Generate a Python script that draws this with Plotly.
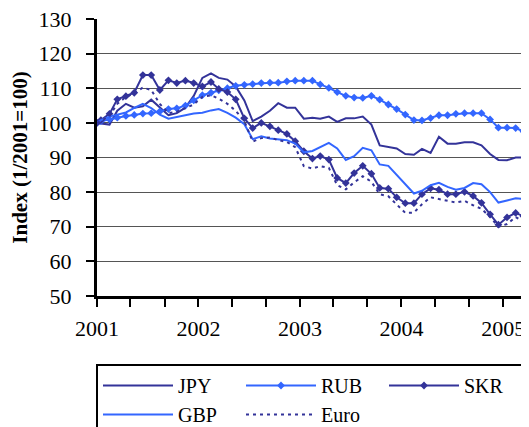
import plotly.graph_objects as go

# Dates: base point 1 Jan 2001, then mid-month observations
dates = ["2001-01-01"] + [f"{2001 + i // 12}-{i % 12 + 1:02d}-15" for i in range(52)]

jpy = [100, 99.8, 99.5, 103.5, 105.5, 104.4, 104.8, 106.7, 104.5, 102.2, 102.8,
       104.4, 107.8, 113.0, 114.3, 113.0, 112.5, 110.5, 106.5, 100.5, 101.8,
       103.5, 105.7, 104.4, 104.4, 101.2, 101.5, 101.2, 101.8, 100.3, 101.3,
       101.3, 101.8, 99.5, 93.5, 93.0, 92.6, 91.0, 90.8, 92.5, 91.3,
       96.0, 94.0, 94.0, 94.4, 94.4, 93.5, 91.0, 89.3, 89.2, 90.0, 90.0, 90.0]

rub = [100, 100.5, 101.0, 101.5, 102.0, 102.3, 102.7, 102.8, 103.3, 104.0, 104.2,
       105.0, 106.5, 108.0, 108.7, 109.4, 110.0, 110.7, 111.0, 111.2, 111.5,
       111.6, 111.6, 112.0, 112.2, 112.2, 112.2, 111.1, 110.1, 108.9, 107.8,
       107.3, 107.2, 107.8, 106.7, 105.3, 104.0, 102.4, 100.8, 100.7, 101.4,
       102.2, 102.2, 102.6, 102.8, 102.8, 102.8, 101.0, 98.6, 98.6, 98.5, 97.5, 97.0]

skr = [100, 100.8, 102.6, 106.8, 107.7, 108.7, 113.8, 113.8, 109.5, 112.3, 111.5,
       112.2, 111.5, 110.5, 111.8, 109.8, 108.9, 106.8, 101.3, 98.5, 100.0,
       99.0, 97.9, 96.8, 94.7, 91.8, 89.7, 90.4, 89.4, 84.1, 82.6,
       85.5, 87.6, 85.3, 81.2, 81.0, 78.5, 76.8, 76.8, 79.4, 81.1,
       80.7, 79.4, 79.4, 80.1, 78.9, 76.9, 73.6, 70.6, 72.7, 74.0, 73.0, 72.6]

gbp = [100, 100.8, 101.8, 102.4, 103.0, 104.3, 105.5, 104.3, 102.4, 101.2, 101.7,
       102.4, 102.7, 102.9, 103.6, 104.0, 102.9, 101.5, 99.6, 95.3, 96.1,
       95.5, 95.3, 95.0, 94.0, 91.5, 91.9, 93.1, 94.2, 92.6, 89.3,
       90.4, 92.8, 92.1, 88.0, 87.6, 85.0, 82.0, 79.6, 80.4, 82.0,
       82.7, 81.5, 80.7, 81.2, 82.6, 82.3, 80.0, 77.0, 77.6, 78.2, 78.0, 77.8]

euro = [100, 100.5, 102.0, 105.5, 107.5, 108.5, 110.2, 109.5, 105.5, 102.8, 103.2,
        104.2, 105.3, 107.5, 108.0, 107.0, 105.5, 103.5, 100.5, 94.6, 95.6,
        95.8, 95.0, 94.5, 93.0, 87.5, 86.8, 87.5, 87.0, 82.0, 80.8,
        82.8, 84.6, 83.0, 79.4, 78.8, 76.5, 74.0, 74.1, 76.5, 78.5,
        78.0, 77.3, 77.0, 77.5, 76.2, 75.2, 72.8, 70.0, 70.8, 72.8, 71.4, 71.0]

y_ticks = [50, 60, 70, 80, 90, 100, 110, 120, 130]
x_tick_dates = ["2001-01-01", "2001-05-01", "2001-09-01", "2002-01-01", "2002-05-01",
                "2002-09-01", "2003-01-01", "2003-05-01", "2003-09-01", "2004-01-01",
                "2004-05-01", "2004-09-01", "2005-01-01"]
x_tick_text = ["2001", "", "", "2002", "", "", "2003", "", "", "2004", "", "", "2005"]

NAVY = "#333399"
BLUE = "#3366FF"
FONT = "Liberation Serif, Times New Roman, serif"
FS = 22

# page body has an 8px margin; figure is sized/offset to compensate
W, H = 521, 419

fig = go.Figure()
fig.add_trace(go.Scatter(x=dates, y=jpy, name="JPY", mode="lines",
                         line=dict(color=NAVY, width=2)))
fig.add_trace(go.Scatter(x=dates, y=rub, name="RUB", mode="lines+markers",
                         line=dict(color=BLUE, width=2),
                         marker=dict(symbol="diamond", size=6, color=BLUE)))
fig.add_trace(go.Scatter(x=dates, y=skr, name="SKR", mode="lines+markers",
                         line=dict(color=NAVY, width=2),
                         marker=dict(symbol="diamond", size=6, color=NAVY)))
fig.add_trace(go.Scatter(x=dates, y=gbp, name="GBP", mode="lines",
                         line=dict(color=BLUE, width=2)))
fig.add_trace(go.Scatter(x=dates, y=euro, name="Euro", mode="lines",
                         line=dict(color=NAVY, width=2, dash="3px,4px")))

fig.update_layout(
    width=W, height=H,
    margin=dict(l=89, r=0, t=11, b=131, autoexpand=False),
    paper_bgcolor="white", plot_bgcolor="white",
    font=dict(family=FONT, size=FS, color="black"),
    showlegend=True,
    legend=dict(orientation="h", xref="container", yref="container",
                x=88 / W, y=1 - 356 / H, xanchor="left", yanchor="top",
                bordercolor="black", borderwidth=2, bgcolor="white",
                itemwidth=70, entrywidth=58, entrywidthmode="pixels",
                font=dict(family=FONT, size=20)),
)
fig.update_xaxes(
    type="date", range=["2001-01-01", "2005-04-04"], automargin=False,
    tickmode="array", tickvals=x_tick_dates, ticktext=x_tick_text,
    ticks="outside", ticklen=8, tickwidth=2, tickcolor="black",
    showline=True, linecolor="black", linewidth=3,
    showgrid=False, zeroline=False, ticklabelstandoff=3,
    ticklabeloverflow="allow",
    tickfont=dict(family=FONT, size=FS),
)
fig.update_yaxes(
    range=[50, 130], tickmode="array", tickvals=y_ticks, automargin=False,
    ticks="outside", ticklen=8, tickwidth=2, tickcolor="black",
    showline=True, linecolor="black", linewidth=3,
    showgrid=True, gridcolor="#555555", gridwidth=1, zeroline=False,
    ticklabelstandoff=10, ticklabeloverflow="allow",
    tickfont=dict(family=FONT, size=FS),
    title=dict(text="<b>Index (1/2001=100)</b>", standoff=7,
               font=dict(family=FONT, size=21)),
)

fig.write_html("out.html")
